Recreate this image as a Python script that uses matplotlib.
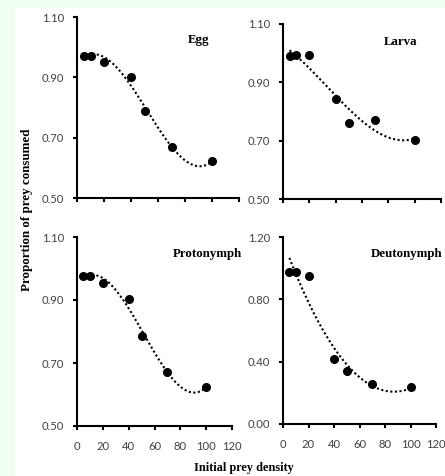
import matplotlib
matplotlib.use("Agg")
import matplotlib.pyplot as plt
import numpy as np

density = [5, 10, 20, 40, 50, 70, 100]
egg = [0.972, 0.972, 0.952, 0.900, 0.787, 0.670, 0.622]
larva = [0.989, 0.994, 0.994, 0.844, 0.760, 0.772, 0.701]
protonymph = [0.975, 0.975, 0.954, 0.902, 0.787, 0.670, 0.624]
deutonymph = [0.974, 0.974, 0.951, 0.420, 0.341, 0.258, 0.237]

panels = [
    ("Egg", egg, 3, (0.50, 1.10), [0.50, 0.70, 0.90, 1.10]),
    ("Larva", larva, 3, (0.50, 1.10), [0.50, 0.70, 0.90, 1.10]),
    ("Protonymph", protonymph, 3, (0.50, 1.10), [0.50, 0.70, 0.90, 1.10]),
    ("Deutonymph", deutonymph, 2, (0.00, 1.20), [0.00, 0.40, 0.80, 1.20]),
]
xticks = [0, 20, 40, 60, 80, 100, 120]

W, H = 445, 476
fig = plt.figure(figsize=(W / 100, H / 100), dpi=100)
fig.patch.set_facecolor("#F0FFF0")
fig.patches.append(matplotlib.patches.Rectangle((15 / W, 0), 1, 1 - 8 / H,
                   transform=fig.transFigure, facecolor="white", edgecolor="none", zorder=-10))

# pixel boxes: left, right, top, bottom
boxes = [(77, 239, 17, 198), (283, 441, 24, 199), (77, 232, 237, 426), (283, 436, 237, 424)]
title_pos = [(0.75, 0.873), (0.747, 0.897), (0.84, 0.91), (0.805, 0.909)]

serif = "Liberation Serif"
tickfont = ["Lato", "DejaVu Sans"]

for i, ((name, vals, deg, ylim, yt), (l, r, t, b), tp) in enumerate(zip(panels, boxes, title_pos)):
    ax = fig.add_axes([l / W, 1 - b / H, (r - l) / W, (b - t) / H])
    ax.set_facecolor("none")
    x = np.array(density, dtype=float)
    y = np.array(vals)
    coef = np.polyfit(x, y, deg)
    xs = np.linspace(x.min(), x.max(), 200)
    ax.plot(xs, np.polyval(coef, xs), color="black", lw=1.5, linestyle=(0, (1, 1.2)), zorder=2)
    ax.plot(x, y, "o", color="black", markersize=5.5, zorder=3, clip_on=False)
    ax.set_xlim(0, 120)
    ax.set_ylim(*ylim)
    ax.set_xticks(xticks)
    ax.set_yticks(yt)
    ax.set_yticklabels([f"{v:.2f}" for v in yt])
    if i >= 2:
        ax.set_xticklabels([str(v) for v in xticks])
    else:
        ax.set_xticklabels([])
    for s in ["top", "right"]:
        ax.spines[s].set_visible(False)
    for s in ["left", "bottom"]:
        ax.spines[s].set_linewidth(1.5)
    ax.tick_params(axis="both", direction="out", length=3, width=1.5, color="black",
                   labelsize=8.1, labelcolor="#404040")
    ax.tick_params(axis="y", pad=6)
    ax.tick_params(axis="x", pad=7.5)
    for lab in ax.get_xticklabels() + ax.get_yticklabels():
        lab.set_fontfamily(tickfont)
    ax.text(tp[0], tp[1], name, transform=ax.transAxes, ha="center", va="center",
            fontfamily=serif, fontweight="bold", fontsize=9.3)

fig.text(244 / W, 1 - 468 / H, "Initial prey density", ha="center", va="center",
         fontfamily=serif, fontweight="bold", fontsize=8.8)
fig.text(27 / W, 1 - 210 / H, "Proportion of prey consumed", ha="center", va="center",
         rotation=90, fontfamily=serif, fontweight="bold", fontsize=9.4)

fig.savefig("out.png", dpi=100, facecolor=fig.get_facecolor())
